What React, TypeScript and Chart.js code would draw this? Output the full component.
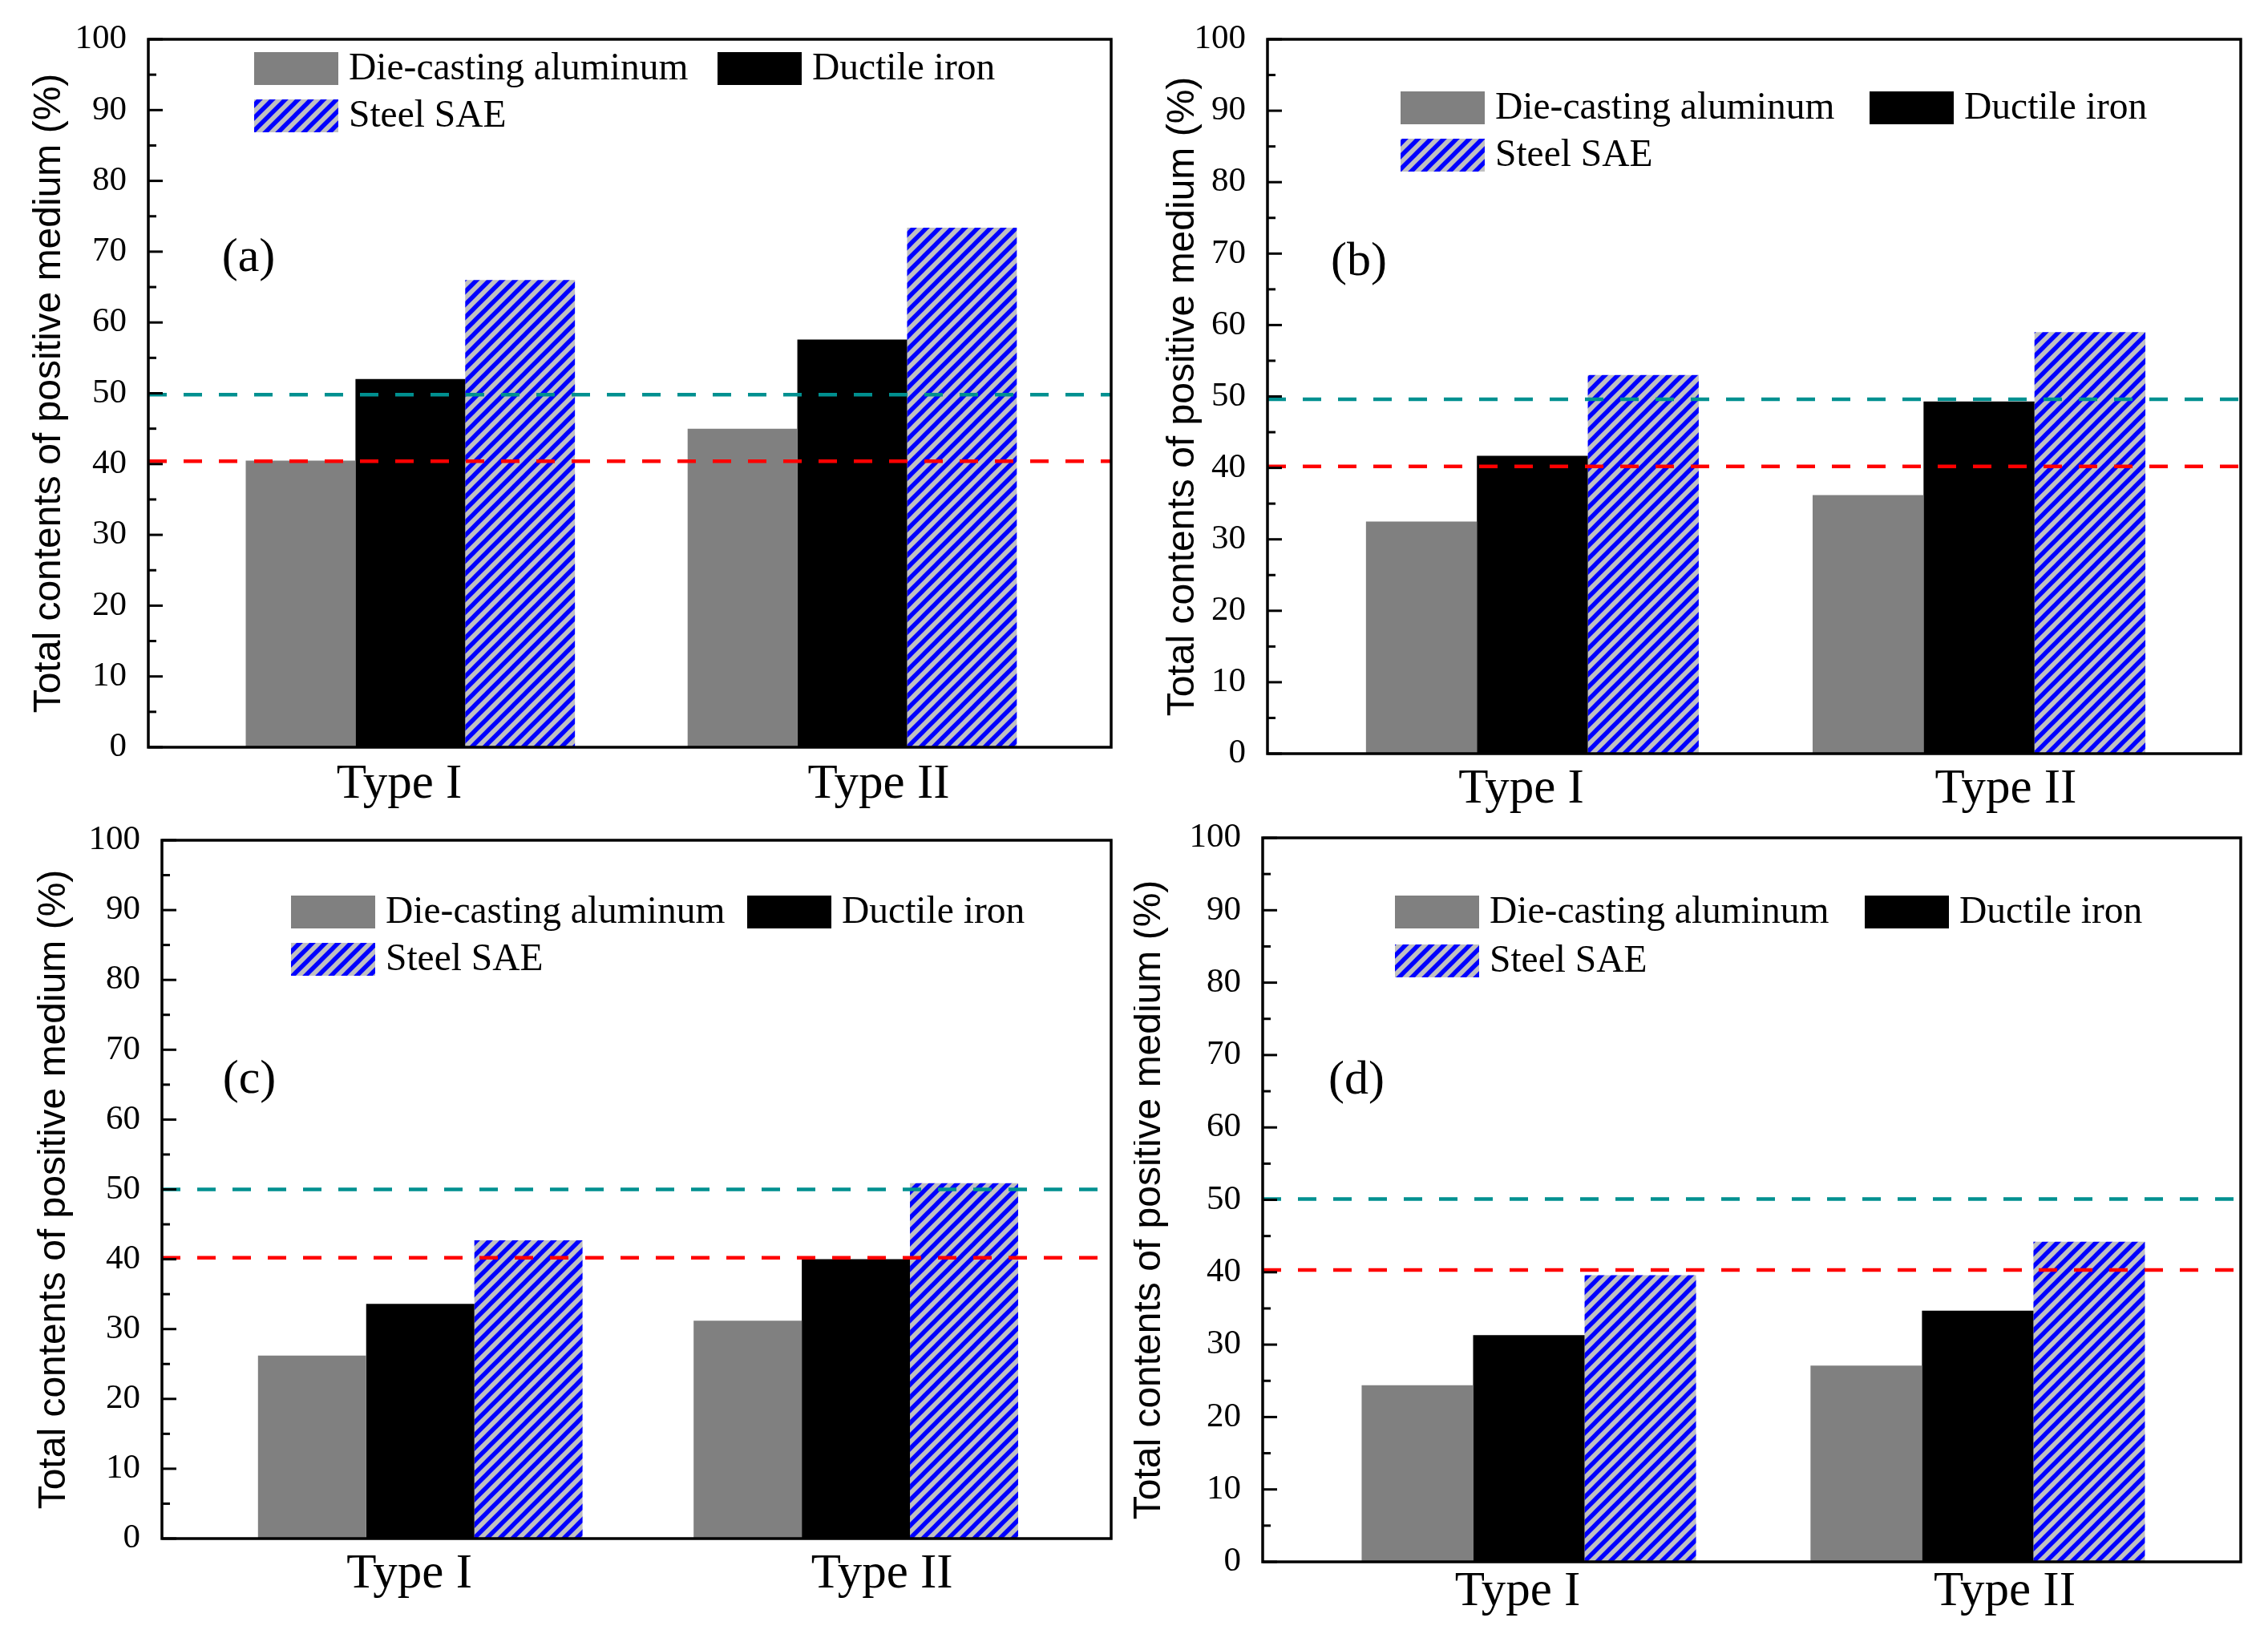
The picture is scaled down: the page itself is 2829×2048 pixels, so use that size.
import React, { useEffect, useRef } from 'react';
import { Chart, registerables } from 'chart.js';

Chart.register(...registerables);

// ---------------- data ----------------
const categories = ['Type I', 'Type II'];
const categoryPositions = [1, 2];
const tickLabelPositions = [0.975, 2.06];
const seriesNames = ['Die-casting aluminum', 'Ductile iron', 'Steel SAE'];
const yTickValues = [0, 10, 20, 30, 40, 50, 60, 70, 80, 90, 100];

const panelAAluminum = [40.5, 45.0];
const panelAIron = [52.0, 57.6];
const panelASteel = [66.0, 73.4];
const panelAThresholds = [49.8, 40.4];

const panelBAluminum = [32.5, 36.2];
const panelBIron = [41.7, 49.3];
const panelBSteel = [53.0, 59.0];
const panelBThresholds = [49.6, 40.2];

const panelCAluminum = [26.2, 31.2];
const panelCIron = [33.6, 40.0];
const panelCSteel = [42.7, 50.9];
const panelCThresholds = [50.0, 40.2];

const panelDAluminum = [24.4, 27.1];
const panelDIron = [31.3, 34.7];
const panelDSteel = [39.6, 44.2];
const panelDThresholds = [50.1, 40.3];

const panelLetters = ['(a)', '(b)', '(c)', '(d)'];
const yTitle = 'Total contents of positive medium (%)';

// ---------------- styles / layout ----------------
const SERIF = '"Liberation Serif", "Times New Roman", serif';
const SANS = '"Liberation Sans", Arial, sans-serif';
const thresholdColors = ['#009090', '#ff0000'];

type Layout = {
  left: number; top: number; w: number; h: number;
  yW: number; padR: number; padT: number; xH: number;
  titlePad: number; xTickPad: number;
  legX: number; legY: number; legCol2: number; legRow: number;
  letterX: number; letterV: number;
};

const layouts: Layout[] = [
  { left: 0, top: 0, w: 1414, h: 1024, yW: 185, padR: 28, padT: 49, xH: 92, titlePad: 33, xTickPad: 2, legX: 132, legY: 16, legCol2: 710, legRow: 59, letterX: 125, letterV: 69 },
  { left: 1414, top: 0, w: 1415, h: 1024, yW: 167, padR: 34, padT: 49, xH: 84, titlePad: 33, xTickPad: 0, legX: 166, legY: 65, legCol2: 751, legRow: 59, letterX: 114, letterV: 68.8 },
  { left: 0, top: 990, w: 1414, h: 1058, yW: 202, padR: 28, padT: 58, xH: 129, titlePad: 39, xTickPad: 0, legX: 161, legY: 69, legCol2: 730, legRow: 59, letterX: 109, letterV: 65.7 },
  { left: 1414, top: 990, w: 1415, h: 1058, yW: 161, padR: 34, padT: 55, xH: 100, titlePad: -9, xTickPad: -7, legX: 165, legY: 72, legCol2: 751, legRow: 61, letterX: 117, letterV: 66.4 },
];

const panelSeries = [
  [panelAAluminum, panelAIron, panelASteel],
  [panelBAluminum, panelBIron, panelBSteel],
  [panelCAluminum, panelCIron, panelCSteel],
  [panelDAluminum, panelDIron, panelDSteel],
];
const panelThresholds = [panelAThresholds, panelBThresholds, panelCThresholds, panelDThresholds];

function makeHatch(ctx: CanvasRenderingContext2D): CanvasPattern | string {
  const s = 16;
  const tile = document.createElement('canvas');
  tile.width = s;
  tile.height = s;
  const c = tile.getContext('2d');
  if (!c) return '#8080ff';
  c.fillStyle = '#c0c0c0';
  c.fillRect(0, 0, s, s);
  c.strokeStyle = '#0000ff';
  c.lineWidth = 5.5;
  c.beginPath();
  c.moveTo(-4, s + 4); c.lineTo(s + 4, -4);
  c.moveTo(-4, 4); c.lineTo(4, -4);
  c.moveTo(s - 4, s + 4); c.lineTo(s + 4, s - 4);
  c.stroke();
  return ctx.createPattern(tile, 'repeat') || '#8080ff';
}

function Panel({ index }: { index: number }) {
  const ref = useRef<HTMLCanvasElement | null>(null);
  const L = layouts[index];

  useEffect(() => {
    const canvas = ref.current;
    if (!canvas) return;
    const ctx = canvas.getContext('2d');
    if (!ctx) return;
    const hatch = makeHatch(ctx);
    const fills: (string | CanvasPattern)[] = ['#808080', '#000000', hatch];
    const series = panelSeries[index];
    const thresholds = panelThresholds[index];

    const overlay = {
      id: 'overlay' + index,
      afterDatasetsDraw(chart: any) {
        const c: CanvasRenderingContext2D = chart.ctx;
        const area = chart.chartArea;
        const ys = chart.scales.y;
        c.save();
        // threshold dashed lines
        thresholds.forEach((v, i) => {
          const py = ys.getPixelForValue(v);
          c.strokeStyle = thresholdColors[i];
          c.lineWidth = 4.5;
          c.setLineDash([23, 21]);
          c.lineDashOffset = 0;
          c.beginPath();
          c.moveTo(area.left, py);
          c.lineTo(area.right, py);
          c.stroke();
        });
        c.setLineDash([]);
        // inward y ticks
        c.strokeStyle = '#000';
        c.lineWidth = 3;
        for (let v = 0; v <= 100; v += 5) {
          const py = ys.getPixelForValue(v);
          const len = v % 10 === 0 ? 18 : 10;
          c.beginPath();
          c.moveTo(area.left, py);
          c.lineTo(area.left + len, py);
          c.stroke();
        }
        // frame
        c.lineWidth = 3.5;
        c.strokeRect(area.left, area.top, area.right - area.left, area.bottom - area.top);
        // legend
        const bw = 105, bh = 41;
        const items = [
          { x: area.left + L.legX, y: area.top + L.legY },
          { x: area.left + L.legCol2, y: area.top + L.legY },
          { x: area.left + L.legX, y: area.top + L.legY + L.legRow },
        ];
        c.font = `47.5px ${SERIF}`;
        c.textAlign = 'left';
        c.textBaseline = 'middle';
        items.forEach((it, i) => {
          c.fillStyle = fills[i] as any;
          c.fillRect(it.x, it.y, bw, bh);
          c.fillStyle = '#000';
          c.fillText(seriesNames[i], it.x + bw + 13, it.y + bh / 2 + 1);
        });
        // panel letter
        c.font = `60px ${SERIF}`;
        c.textAlign = 'center';
        c.fillText(panelLetters[index], area.left + L.letterX, ys.getPixelForValue(L.letterV));
        c.restore();
      },
    };

    const chart = new Chart(canvas, {
      type: 'bar',
      data: {
        datasets: series.map((vals, si) => ({
          label: seriesNames[si],
          data: categoryPositions.map((x, i) => ({ x, y: vals[i] })),
          backgroundColor: fills[si] as any,
          borderWidth: 0,
          categoryPercentage: 0.745,
          barPercentage: 1,
        })),
      },
      options: {
        responsive: false,
        animation: false,
        devicePixelRatio: 1,
        events: [],
        layout: { padding: { left: 0, right: L.padR, top: L.padT, bottom: 0 } },
        plugins: { legend: { display: false }, tooltip: { enabled: false } },
        scales: {
          x: {
            type: 'linear',
            offset: false,
            min: 0.407,
            max: 2.586,
            grid: { display: false },
            border: { display: false },
            afterBuildTicks: (scale: any) => {
              scale.ticks = tickLabelPositions.map((v) => ({ value: v }));
            },
            afterFit: (scale: any) => { scale.height = L.xH; },
            ticks: {
              autoSkip: false,
              maxRotation: 0,
              minRotation: 0,
              padding: L.xTickPad,
              color: '#000',
              font: { family: SERIF, size: 61 },
              callback: (_v: any, i: number) => categories[i],
            },
          },
          y: {
            type: 'linear',
            min: 0,
            max: 100,
            grid: { display: false },
            border: { display: false },
            afterBuildTicks: (scale: any) => {
              scale.ticks = yTickValues.map((v) => ({ value: v }));
            },
            afterFit: (scale: any) => { scale.width = L.yW; },
            ticks: {
              padding: 19,
              color: '#000',
              font: { family: SERIF, size: 43 },
            },
            title: {
              display: true,
              text: yTitle,
              color: '#000',
              font: { family: SANS, size: 48 },
              padding: { top: L.titlePad, bottom: 0 },
            },
          },
        },
      },
      plugins: [overlay],
    } as any);
    return () => chart.destroy();
  }, [index]);

  return (
    <canvas
      ref={ref}
      width={L.w}
      height={L.h}
      style={{ position: 'absolute', left: L.left, top: L.top, width: L.w, height: L.h }}
    />
  );
}

export default function App() {
  return (
    <div style={{ position: 'absolute', left: 0, top: 0, width: 2829, height: 2048, background: '#ffffff', overflow: 'hidden' }}>
      {[0, 1, 2, 3].map((i) => (
        <Panel key={i} index={i} />
      ))}
    </div>
  );
}
